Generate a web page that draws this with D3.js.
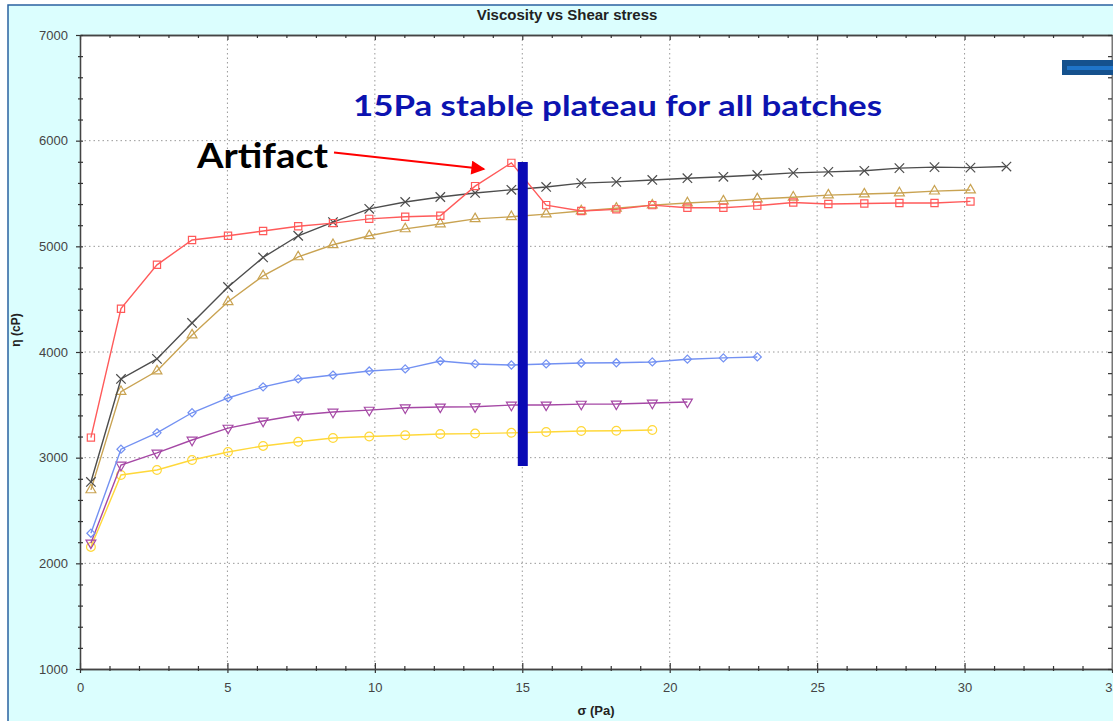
<!DOCTYPE html>
<html>
<head>
<meta charset="utf-8">
<script src="https://cdn.jsdelivr.net/npm/d3@7"></script>
<style>
  body { margin: 0; background: #fff; }
  svg { display: block; }
</style>
</head>
<body>
<div id="chart"></div>
<script>
// shear stress steps (Pa), shared by all batches (each batch stops earlier or later)
var sigma = [0.37, 1.39, 2.61, 3.80, 5.02, 6.21, 7.40, 8.58, 9.81, 11.03, 12.22, 13.40, 14.63,
             15.81, 17.00, 18.19, 19.41, 20.60, 21.82, 22.97, 24.19, 25.38, 26.60, 27.79,
             28.98, 30.20, 31.42];

// viscosity (cP) per batch
var etaRed    = [3190, 4410, 4825, 5060, 5100, 5145, 5190, 5220, 5260, 5280, 5290, 5570, 5790,
                 5390, 5335, 5350, 5390, 5365, 5365, 5385, 5415, 5400, 5405, 5410, 5410, 5425];
var etaBlack  = [2770, 3745, 3935, 4275, 4615, 4895, 5100, 5230, 5355, 5420, 5467, 5505, 5535,
                 5562, 5598, 5610, 5628, 5645, 5658, 5675, 5695, 5705, 5715, 5740, 5750, 5745, 5755];
var etaTan    = [2695, 3625, 3820, 4160, 4475, 4720, 4900, 5015, 5100, 5165, 5212, 5260, 5280,
                 5305, 5335, 5360, 5390, 5410, 5428, 5448, 5465, 5485, 5495, 5505, 5522, 5533];
var etaBlue   = [2285, 3080, 3235, 3425, 3565, 3670, 3745, 3782, 3820, 3840, 3915, 3887, 3877,
                 3887, 3896, 3898, 3906, 3932, 3944, 3953];
var etaPurple = [2193, 2930, 3045, 3167, 3280, 3347, 3404, 3432, 3450, 3472, 3480, 3482, 3498,
                 3499, 3507, 3508, 3517, 3527];
var etaYellow = [2155, 2836, 2883, 2978, 3054, 3111, 3150, 3186, 3200, 3212, 3224, 3228, 3235,
                 3243, 3252, 3255, 3262];

var xTicks = [0, 5, 10, 15, 20, 25, 30, 35];
var yTicks = [1000, 2000, 3000, 4000, 5000, 6000, 7000];

var series = [
  {vals: etaYellow, color: "#ffd83a", sym: d3.symbolCircle, size: 60, rot: 0},
  {vals: etaPurple, color: "#a548a5", sym: d3.symbolTriangle, size: 42, rot: 180},
  {vals: etaBlue,   color: "#7391f2", sym: d3.symbolDiamond2, size: 42, rot: 0},
  {vals: etaTan,    color: "#c9a352", sym: d3.symbolTriangle, size: 42, rot: 0},
  {vals: etaBlack,  color: "#4d4d4d", sym: d3.symbolTimes, size: 60, rot: 0},
  {vals: etaRed,    color: "#ff5a5a", sym: d3.symbolSquare, size: 52, rot: 0}
];

var W = 1113, H = 721;
var margin = {top: 35, right: 1, bottom: 52, left: 80};
var width = W - margin.left - margin.right,
    height = H - margin.top - margin.bottom;

var svg = d3.select("#chart")
  .append("svg")
    .attr("width", W)
    .attr("height", H);

// widget frame
svg.append("rect")
  .attr("x", 8).attr("y", 5)
  .attr("width", W).attr("height", H)
  .attr("fill", "#dbfefe")
  .attr("stroke", "#2a62a0")
  .attr("stroke-width", 1.5);

svg.append("text")
  .attr("x", 567).attr("y", 20)
  .attr("text-anchor", "middle")
  .style("font", "bold 15px 'Liberation Sans', Arial, sans-serif")
  .style("fill", "#222")
  .text("Viscosity vs Shear stress");

var g = svg.append("g")
  .attr("transform", "translate(" + margin.left + "," + margin.top + ")");

g.append("rect")
  .attr("width", width).attr("height", height)
  .attr("fill", "#fff");

var x = d3.scaleLinear().domain([0, 35]).range([0, width]);
var y = d3.scaleLinear().domain([1000, 7000]).range([height, 0]);

// dotted grid
g.selectAll(".vgrid")
  .data(xTicks.slice(1, -1))
  .enter().append("line")
    .attr("x1", function(d) { return x(d); })
    .attr("x2", function(d) { return x(d); })
    .attr("y1", 0).attr("y2", height)
    .attr("stroke", "#999")
    .attr("stroke-dasharray", "1.5,3");
g.selectAll(".hgrid")
  .data(yTicks.slice(1, -1))
  .enter().append("line")
    .attr("y1", function(d) { return y(d); })
    .attr("y2", function(d) { return y(d); })
    .attr("x1", 0).attr("x2", width)
    .attr("stroke", "#999")
    .attr("stroke-dasharray", "1.5,3");

var tickFont = "13px 'Liberation Sans', Arial, sans-serif";
var minorX = d3.range(0, 36, 1).filter(function(d) { return d % 5 !== 0; });
var minorY = d3.range(1000, 7001, 200).filter(function(d) { return d % 1000 !== 0; });

function styleAxis(sel) {
  sel.select(".domain").attr("stroke", "#444").attr("stroke-width", 1.3);
  sel.selectAll("line").attr("stroke", "#333").attr("stroke-width", 1.2);
  sel.selectAll("text").style("font", tickFont).style("fill", "#444");
}

// bottom axis
var xAxis = g.append("g")
  .attr("transform", "translate(0," + height + ")")
  .call(d3.axisBottom(x).tickValues(xTicks).tickSize(-6).tickPadding(14)
        .tickFormat(d3.format("d")).tickSizeOuter(0))
  .call(styleAxis);
xAxis.selectAll(".tick line").attr("y1", 4);
g.append("g")
  .attr("transform", "translate(0," + height + ")")
  .call(d3.axisBottom(x).tickValues(minorX).tickSize(-3).tickFormat("").tickSizeOuter(0))
  .call(styleAxis)
  .selectAll(".tick line").attr("y1", 2);

// top axis
g.append("g")
  .call(d3.axisTop(x).tickValues(xTicks).tickSize(-5).tickFormat("").tickSizeOuter(0))
  .call(styleAxis);
g.append("g")
  .call(d3.axisTop(x).tickValues(minorX).tickSize(-3).tickFormat("").tickSizeOuter(0))
  .call(styleAxis);

// left axis
var yAxis = g.append("g")
  .call(d3.axisLeft(y).tickValues(yTicks).tickSize(-3).tickPadding(12)
        .tickFormat(d3.format("d")).tickSizeOuter(0))
  .call(styleAxis);
yAxis.selectAll(".tick line").attr("x1", -4);
g.append("g")
  .call(d3.axisLeft(y).tickValues(minorY).tickSize(-3).tickFormat("").tickSizeOuter(0))
  .call(styleAxis)
  .selectAll(".tick line").attr("x1", -2);

// right axis
g.append("g")
  .attr("transform", "translate(" + width + ",0)")
  .call(d3.axisRight(y).tickValues(yTicks.concat(minorY)).tickSize(-4).tickFormat("").tickSizeOuter(0))
  .call(styleAxis)
  .select(".domain").attr("stroke", "#777").attr("stroke-width", 2);

// axis titles
svg.append("text")
  .attr("x", margin.left + width / 2).attr("y", 715)
  .attr("text-anchor", "middle")
  .style("font", "bold 13px 'Liberation Sans', Arial, sans-serif")
  .style("fill", "#222")
  .text("σ (Pa)");
svg.append("text")
  .attr("transform", "translate(20,330)rotate(-90)")
  .attr("text-anchor", "middle")
  .style("font", "bold 12px 'Liberation Sans', Arial, sans-serif")
  .style("fill", "#222")
  .text("η (cP)");

// series lines and markers
var line = d3.line()
  .x(function(d, i) { return x(sigma[i]); })
  .y(function(d) { return y(d); });

series.forEach(function(s) {
  g.append("path")
    .datum(s.vals)
    .attr("d", line)
    .attr("fill", "none")
    .attr("stroke", s.color)
    .attr("stroke-width", 1.4);
  g.selectAll(null)
    .data(s.vals)
    .enter().append("path")
      .attr("d", d3.symbol().type(s.sym).size(s.size))
      .attr("transform", function(d, i) {
        return "translate(" + x(sigma[i]) + "," + y(d) + ")rotate(" + s.rot + ")";
      })
      .attr("fill", "none")
      .attr("stroke", s.color)
      .attr("stroke-width", 1.2);
});

// annotations
svg.append("text")
  .attr("x", 353).attr("y", 116)
  .attr("textLength", 529)
  .attr("lengthAdjust", "spacingAndGlyphs")
  .style("font", "bold 29px Lato, 'Open Sans', sans-serif")
  .style("fill", "#0c13b0")
  .text("15Pa stable plateau for all batches");

svg.append("text")
  .attr("x", 197).attr("y", 168)
  .attr("textLength", 131)
  .attr("lengthAdjust", "spacingAndGlyphs")
  .style("font", "bold 35px Lato, 'Open Sans', sans-serif")
  .style("fill", "#000")
  .text("Artifact");

svg.append("defs").append("marker")
  .attr("id", "head")
  .attr("viewBox", "0 0 10 10")
  .attr("refX", 9).attr("refY", 5)
  .attr("markerUnits", "userSpaceOnUse")
  .attr("markerWidth", 16).attr("markerHeight", 14)
  .attr("orient", "auto")
  .append("path")
    .attr("d", "M0,0L10,5L0,10Z")
    .attr("fill", "#f00");

svg.append("line")
  .attr("x1", 334).attr("y1", 152.5)
  .attr("x2", 484).attr("y2", 169)
  .attr("stroke", "#f00")
  .attr("stroke-width", 2)
  .attr("marker-end", "url(#head)");

// vertical plateau bar at 15 Pa
svg.append("rect")
  .attr("x", margin.left + x(15) - 4.5).attr("y", 162)
  .attr("width", 10).attr("height", 304)
  .attr("fill", "#0a0ab5");

// stray slide element top right
svg.append("rect")
  .attr("x", 1062).attr("y", 60)
  .attr("width", 60).attr("height", 15)
  .attr("fill", "#15518d");
svg.append("rect")
  .attr("x", 1067).attr("y", 66)
  .attr("width", 60).attr("height", 4)
  .attr("fill", "#1f74c8");
</script>
</body>
</html>
